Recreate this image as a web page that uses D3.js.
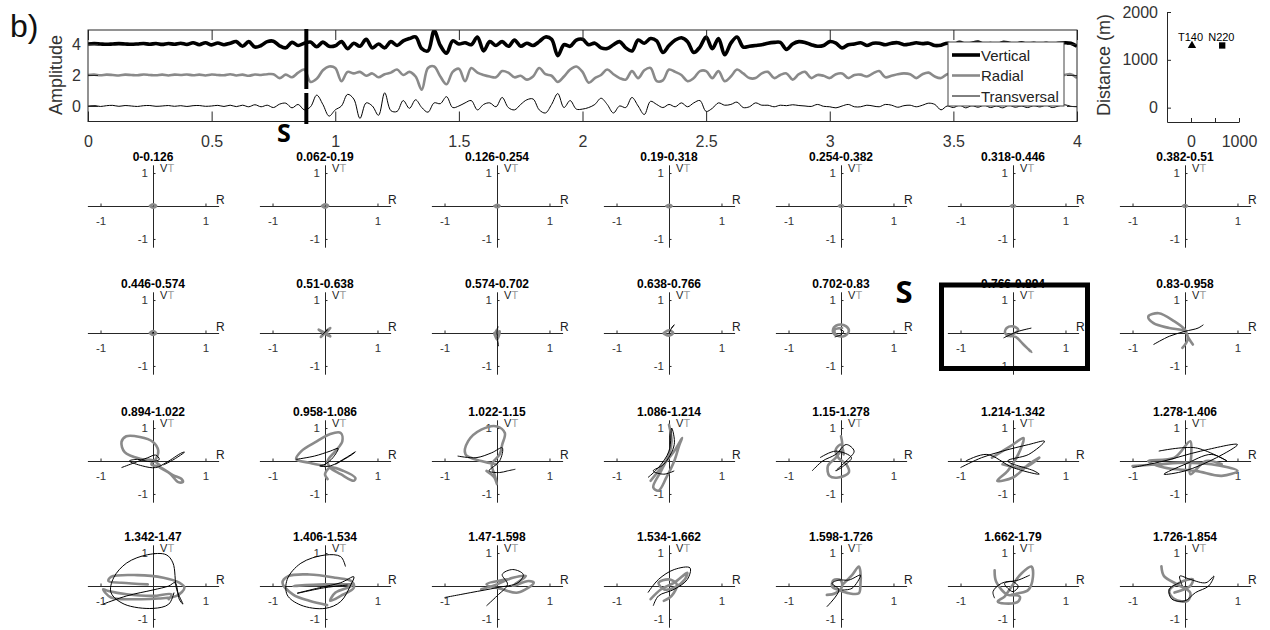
<!DOCTYPE html>
<html>
<head>
<meta charset="utf-8">
<script src="https://cdn.jsdelivr.net/npm/d3@7"></script>
<style>
  body { margin: 0; background: #fff; }
  svg { font-family: "Liberation Sans", Arial, sans-serif; }
</style>
</head>
<body>
<div id="chart"></div>
<script>
// ---- seismogram traces (amplitude around each offset), one sample every dt seconds
const dt = 0.025;
const vertical = [
  0, 0.02, 0, -0.02, 0, 0.02, 0, -0.02, 0, 0.03, -0.02, 0.03, -0.03, 0.03, -0.02, 0.05, -0.03,
  0.08, -0.05, 0.08, -0.06, 0.06, -0.05, 0.05, 0.15, -0.15, 0.15, -0.2, -0.1, 0.15, 0.18, -0.12, -0.25, 0.1, -0.1,
  0.05, 0.12, -0.18, 0.12, -0.15, -0.12, 0.15, -0.3, 0.05, -0.15, 0.3, -0.25, 0.0, -0.25, 0.15, -0.1, 0.2,
  0.35, 0.45, -0.3, -0.45, 0.85, -0.1, -0.6, 0.2, 0.0, 0.08, -0.05, 0.45, -0.45, 0.15, -0.1, 0.15, -0.15, 0.25,
  -0.15, 0.05, -0.1, 0.15, 0.45, 0.3, -0.75, -0.05, -0.15, 0.25,
  0.3, -0.05, 0.05, -0.25, -0.3, -0.05, 0.15, -0.25, -0.45, 0.25, 0.05, 0.35, 0.2, -0.55, -0.1, 0.25, 0.4, 0.15,
  -0.55, -0.2, 0.45, -0.3, 0.35, -0.7, 0.05, 0.45, -0.2, -0.15, -0.1, -0.05, 0.05, 0.1, 0.1, -0.35, 0.0, 0.15,
  0.1, -0.05, -0.15, -0.1,
  0.15, 0.05, -0.25, -0.05, 0.0, 0.08, -0.1, 0.05, 0.05, -0.05, 0.05, 0.08, -0.05, 0.0, 0.08, 0.02, 0.05, -0.1, -0.08,
  0.05, -0.05, 0.1, -0.03, 0.05, 0.12, -0.05, 0.02, -0.08, 0.1, 0.05, -0.05, 0.08, -0.03, 0.05, -0.05,
  0.05, -0.05, 0.05, 0.08, 0.05, -0.15
];
const radial = [
  0, 0.02, -0.02, 0.02, 0, -0.03, 0.02, 0, -0.02, 0.03, 0, -0.02, 0.02, -0.03, 0.02, 0, 0.03, -0.02, 0.02, -0.03,
  0.03, 0, -0.02, 0.05, -0.03, 0.02, -0.05, 0.03, 0, 0.05,
  0.05, -0.2, 0.02, -0.15, 0.15, 0.35, -0.45, -0.25, 0.3, 0.55, 0.45, -0.4, 0.2, 0.1, 0.2, -0.05, 0.1, -0.15, 0.05,
  0.15, 0.35, 0.0, 0.2, -0.1, -0.95, 0.45, 0.55, -0.1, -0.6, 0.2,
  0.4, -0.4, 0.45, 0.15, 0.0, -0.1, -0.15, 0.25, 0.15, -0.15, -0.05, -0.3, -0.1, 0.45, 0.05, -0.05, -0.45, -0.1,
  0.35, 0.55, 0.2, -0.5, -0.2, 0.0, 0.35, 0.05, -0.2, -0.3, 0.25, -0.2, 0.3, 0.45, -0.4, -0.35, 0.35, 0.2, 0.0,
  -0.4, -0.2, 0.25,
  0.25, -0.2, 0.25, -0.4, -0.1, 0.35, 0.1, -0.2, -0.2, 0.1, 0.2, -0.2, 0.0, 0.1, -0.3, 0.05, 0.2, -0.2, 0.0, -0.05,
  -0.2, 0.05, 0.1, -0.2, 0.0, 0.02, -0.1, 0.1, 0.25, -0.15, -0.05, 0.05, 0.1, 0.05, -0.2, 0.05, 0.15, -0.1, -0.2,
  0.05, 0.1, -0.1, 0.05, 0.15, -0.05, 0.1, -0.1, 0.05, 0.1, -0.05, 0.0, 0.1, -0.1, 0.05, 0.08, -0.05, 0.05, -0.05,
  0.0, 0.05, -0.2
];
const transversal = [
  0, 0.03, -0.03, 0.02, 0.04, -0.02, 0.03, 0, -0.03, 0.02, 0.03, -0.02, 0, 0.03, -0.02, 0.02, -0.03, 0.02, 0.03,
  -0.02, 0, 0.04, -0.03, 0.05, -0.04,
  0.05, -0.05, 0.08, -0.05, 0.05, -0.1, 0.12, 0.18, -0.12, 0.1, -0.25, -0.05, 0.7, 0.1, -0.65, -0.25, 0.0, 0.75,
  0.45, -0.8, 0.2, 0.0, -0.6, 0.85, -0.3, -0.35, 0.35, -0.15, 0.4, -0.1, -0.4, 0.2, 0.15, 0.6, -0.1,
  0.0, 0.2, 0.35, -0.25, 0.1, 0.2, -0.05, 0.55, -0.1, -0.25, 0.1, 0.4, 0.45, -0.25, -0.45, 0.1, 0.8, -0.1, 0.35,
  -0.2, -0.2, -0.1, 0.1, 0.5, 0.1, -0.45, 0.0, -0.1, 0.55, 0.0, -0.55, 0.3, 0.1, -0.1, 0.1, -0.05, 0.2, -0.05, 0.2, 0.35,
  -0.35, -0.15, 0.2, 0.05, 0.1, 0.25, -0.1, -0.05, 0.2, 0.05, 0.05, -0.05, 0.05, 0.02, 0.08, 0.03, 0.0, -0.03,
  0.1, -0.02, -0.05, -0.12, 0.0, 0.1, -0.05, -0.05, 0.05, 0.0, -0.05, 0.1, 0.05, -0.08, 0.02, 0.05, -0.05, 0.05,
  0.18, 0.1, -0.25, 0.0,
  -0.1, 0.05, -0.12, 0.02, -0.08, 0.05, -0.1, 0.0, -0.12, 0.05, -0.08, 0.0, -0.1, 0.02, -0.06, 0.05, -0.1, 0.0,
  0.08, -0.02, -0.05
];
const traceNames = ["Vertical", "Radial", "Transversal"];
const traceOffsets = [4, 2, 0];
const timeTicks = [0, 0.5, 1, 1.5, 2, 2.5, 3, 3.5, 4];
const ampTicks = [0, 2, 4];
const sArrival = 0.883;

// ---- station map
const stationNames = ["T140", "N220"];
const stationX = [20, 650];
const stationY = [1300, 1300];
const distTicks = [0, 1000, 2000];
const offsetTicks = [0, 500, 1000];

// ---- particle motion windows (R on x, V / T on y)
const windowLabels = [
  "0-0.126", "0.062-0.19", "0.126-0.254", "0.19-0.318", "0.254-0.382", "0.318-0.446", "0.382-0.51",
  "0.446-0.574", "0.51-0.638", "0.574-0.702", "0.638-0.766", "0.702-0.83", "0.766-0.894", "0.83-0.958",
  "0.894-1.022", "0.958-1.086", "1.022-1.15", "1.086-1.214", "1.15-1.278", "1.214-1.342", "1.278-1.406",
  "1.342-1.47", "1.406-1.534", "1.47-1.598", "1.534-1.662", "1.598-1.726", "1.662-1.79", "1.726-1.854"
];
const sWindow = 12;

const grayPaths = [
  [[-0.06,0],[0,0.05],[0.06,0],[0,-0.05],[-0.06,0]],
  [[-0.06,0],[0,0.05],[0.06,0.01],[0,-0.05],[-0.06,0]],
  [[-0.05,0],[0,0.04],[0.05,0],[0,-0.04],[-0.05,0]],
  [[-0.05,0],[0,0.04],[0.05,0],[0,-0.04],[-0.05,0]],
  [[-0.04,0],[0,0.03],[0.04,0],[0,-0.03],[-0.04,0]],
  [[-0.04,0],[0,0.03],[0.04,0],[0,-0.03],[-0.04,0]],
  [[-0.04,0],[0,0.03],[0.04,0],[0,-0.03],[-0.04,0]],
  [[-0.06,0],[0,0.06],[0.06,0],[0,-0.06],[-0.06,0]],
  [[0,0],[-0.12,0.1],[0,0],[0.1,0.15],[0,0],[0.1,-0.1],[0,0],[-0.08,-0.12],[0,0]],
  [[0,0.1],[-0.05,-0.05],[0.05,0.05],[0,-0.2],[-0.05,0]],
  [[-0.1,0],[0,0.08],[0.08,0],[0,-0.08],[-0.1,-0.02]],
  [[0,-0.1],[-0.12,-0.05],[-0.15,0.12],[-0.05,0.25],[0.1,0.2],[0.15,0.05],[0.05,-0.1],[-0.1,-0.05],[-0.12,0.1],[0.02,0.15]],
  [[-0.05,-0.1],[-0.15,0],[-0.12,0.15],[0,0.2],[0.1,0.1],[0.02,-0.02],[-0.12,-0.08],[0.05,-0.12],[0.2,-0.35],[0.35,-0.58],[0.3,-0.5]],
  [[0.15,-0.35],[0.05,-0.1],[0,0.1],[-0.2,0.35],[-0.5,0.6],[-0.7,0.5],[-0.6,0.3],[-0.3,0.15],[0,0.05],[0.05,-0.2],[-0.05,-0.45]],
  [[0.13,-0.13],[0,0.02],[-0.25,0.07],[-0.54,0.27],[-0.6,0.58],[-0.51,0.75],[-0.25,0.73],[0,0.58],[0.1,0.32],[0.06,0.07],[-0.03,-0.1],[0.13,-0.18],[0.38,-0.43],[0.54,-0.54],[0.57,-0.64],[0.48,-0.64],[0.32,-0.38],[0.13,-0.2]],
  [[0,-0.15],[-0.3,-0.05],[-0.55,0.05],[-0.45,0.3],[-0.15,0.6],[0.1,0.82],[0.3,0.85],[0.33,0.6],[0.2,0.3],[0.05,0],[0.1,-0.2],[0.3,-0.4],[0.55,-0.6],[0.58,-0.52],[0.35,-0.3],[0.1,-0.2],[0,-0.4],[0.05,-0.55]],
  [[0,-0.1],[-0.3,0],[-0.6,0.2],[-0.55,0.6],[-0.3,0.95],[0,1.05],[0.15,0.85],[0.1,0.5],[0.05,0.2],[-0.1,-0.1],[-0.05,-0.4],[0,-0.7],[-0.05,-0.5],[-0.2,-0.3]],
  [[0,1.1],[0.05,0.6],[0,0.2],[-0.15,-0.3],[-0.3,-0.8],[-0.2,-0.9],[-0.05,-0.5],[0.1,0],[0.2,0.5],[0.25,0.7],[0.1,0.3],[-0.25,-0.4],[-0.35,-0.6]],
  [[0,0.75],[0.02,0.4],[-0.1,0.1],[-0.25,-0.15],[-0.22,-0.45],[-0.05,-0.5],[0.15,-0.35],[0.1,-0.1],[-0.05,0.1],[-0.1,0.35],[0,0.5],[0.05,0.2]],
  [[-0.4,0.1],[0,0.5],[0.2,0.7],[0.1,0.2],[-0.1,-0.3],[-0.3,-0.6],[0,-0.5],[0.3,-0.1],[0.5,0.1],[0.2,-0.2],[-0.2,-0.1]],
  [[-1,-0.15],[-0.5,-0.1],[0,-0.05],[0.5,-0.1],[1,-0.3],[0.7,-0.45],[0.2,-0.3],[-0.4,-0.2],[-0.7,0],[-0.2,0.1],[0.1,0.6],[0.12,0.2],[0.1,-0.4],[0.4,0],[0.7,-0.1]],
  [[0.3,-0.4],[0.35,-0.25],[0,-0.3],[-0.5,-0.25],[-0.85,-0.15],[-0.95,-0.1],[-0.8,-0.35],[-0.3,-0.4],[0.1,-0.38],[0.45,-0.3],[0.6,-0.05],[0.5,0.1],[0.2,0.25],[-0.3,0.33],[-0.8,0.28],[-0.85,0.15],[-0.6,0.1],[-0.1,0.05]],
  [[0.04,-0.58],[-0.3,-0.45],[-0.6,-0.27],[-0.81,0.1],[-0.7,0.3],[-0.3,0.35],[0.2,0.25],[0.5,0.15],[0.55,-0.05],[0.3,-0.3],[0.1,-0.45],[0.2,-0.2],[0.5,0],[0,0.05],[-0.6,0],[-0.3,0.03],[0.3,0.05],[0.55,0.05]],
  [[-0.3,-0.1],[0,0.05],[0.3,0.25],[0.55,0.3],[0.3,0],[0.6,0.15],[0.7,0.1],[0.4,-0.2],[0.1,-0.1],[-0.2,0.05],[0.2,0.2]],
  [[-0.35,-0.4],[-0.15,-0.1],[0.1,0.1],[0.35,0.4],[0.3,0.2],[0.1,-0.05],[-0.1,-0.1],[-0.2,0.1],[0,0.2],[0.15,0.05],[0.05,-0.3],[-0.1,-0.45]],
  [[0.02,0.03],[0.21,0.33],[0.34,0.59],[0.37,0.43],[0.37,0.03],[0.34,-0.22],[0.15,-0.22],[-0.04,-0.12],[-0.17,-0.02],[-0.14,0.18],[-0.01,0.18],[0.02,-0.02],[-0.11,-0.22],[-0.27,-0.27]],
  [[-0.35,0.48],[-0.32,0.13],[-0.1,-0.27],[0.1,-0.22],[0.29,-0.12],[0.38,0.28],[0.35,0.59],[0.16,0.38],[-0.03,-0.02],[-0.16,-0.32],[-0.29,-0.47],[-0.16,-0.53],[0.1,-0.47],[0.13,-0.32],[-0.03,-0.27]],
  [[-0.45,0.6],[-0.4,0.3],[-0.15,0.05],[0.1,-0.2],[0.05,-0.45],[-0.2,-0.4],[-0.3,-0.15],[-0.1,0.1],[0.15,0.2],[0.1,0],[-0.2,-0.2]]
];

const blackPaths = [
  [[0,0],[0.01,0]], [[0,0],[0.01,0]], [[0,0],[0.01,0]], [[0,0],[0.01,0]],
  [[0,0],[0.01,0]], [[0,0],[0.01,0]], [[0,0],[0.01,0]],
  [[-0.02,0],[0.02,0.02]],
  [[-0.05,-0.05],[0.05,0.1],[0,0.05]],
  [[0.02,0.2],[0,0],[0.03,-0.4]],
  [[0,0],[0.05,0.15],[0.1,0.25],[0.05,0.15]],
  [[-0.12,-0.12],[0,-0.05],[0.05,0.05],[-0.02,0.1]],
  [[-0.18,-0.15],[-0.05,-0.05],[0.1,0.05],[0.35,0.15]],
  [[-0.6,-0.35],[-0.3,-0.1],[0,0.05],[0.25,0.15],[0.35,0.25]],
  [[-0.6,-0.2],[-0.35,-0.05],[-0.1,0.1],[0.05,0.18],[0.12,0.05],[-0.05,-0.02],[-0.3,0.05],[-0.45,0],[-0.2,-0.15],[0.05,-0.2],[0.25,-0.05],[0.55,0.25],[0.6,0.27],[0.4,0.05],[0.2,-0.12]],
  [[-0.55,0.05],[-0.2,0.15],[0.1,0.3],[0.25,0.38],[0.15,0.1],[0,-0.1],[-0.1,-0.15],[0.1,-0.15],[0.4,0.1],[0.58,0.28],[0.5,0.18],[0.2,-0.1]],
  [[-0.75,0.15],[-0.4,0.1],[-0.1,0.25],[0.1,0.4],[0.05,0],[-0.15,-0.3],[0.05,-0.35],[0.2,-0.3],[0.35,-0.25]],
  [[-0.4,-0.5],[-0.2,-0.2],[0,0.3],[0.05,1],[0.1,0.5],[-0.1,-0.1],[-0.3,-0.3],[-0.1,-0.4],[0.1,-0.3]],
  [[-0.55,-0.3],[-0.35,0],[-0.1,0.2],[0.1,0.5],[0.25,0.3],[0.1,0],[-0.1,-0.3],[0.05,-0.15],[0.2,0.1],[-0.1,0.3],[-0.4,0.1]],
  [[-1,-0.2],[-0.6,0.1],[-0.2,0.3],[0.3,0.5],[0.6,0.6],[0.3,0.2],[-0.1,0],[0.4,-0.3],[0.5,-0.4],[0,-0.2],[-0.5,0.2],[-0.9,0]],
  [[-1,-0.2],[-0.4,0],[0.3,0.3],[1,0.5],[0.6,0.1],[0,-0.3],[-0.4,-0.4],[0,-0.1],[0.5,0.2],[0.8,0],[0.2,0.4],[-0.5,0.3]],
  [[-0.95,-0.55],[-0.5,-0.3],[0,-0.12],[0.3,0],[0.42,0.1],[0.5,-0.4],[0.57,-0.55],[0.45,-0.1],[0.38,0.7],[0.25,0.95],[-0.1,0.95],[-0.5,0.7],[-0.75,0.25],[-0.8,-0.2],[-0.55,-0.55],[0,-0.68],[0.3,-0.55],[0.4,-0.2]],
  [[0.39,0.59],[0.3,0.89],[0,0.94],[-0.46,0.69],[-0.72,0.2],[-0.72,-0.27],[-0.46,-0.58],[0,-0.68],[0.3,-0.47],[0.49,0.03],[0.55,0.28],[0.3,0.1],[-0.1,-0.05],[-0.53,-0.22],[0,-0.05],[0.43,0.03]],
  [[-1,-0.35],[-0.5,-0.2],[0,-0.05],[0.4,0.1],[0.5,0.35],[0.3,0.5],[0.1,0.35],[0.2,0.05],[0,-0.3],[-0.2,-0.6]],
  [[-0.4,-0.2],[-0.2,0.2],[0.1,0.5],[0.4,0.55],[0.35,0.2],[0.1,-0.1],[-0.2,-0.3],[-0.3,-0.6]],
  [[-0.27,-0.63],[-0.04,-0.12],[-0.17,0.08],[-0.04,0.18],[0.15,0.18],[0.37,0.33],[0.21,-0.07],[0.02,-0.12]],
  [[-0.35,-0.37],[-0.38,-0.17],[-0.22,0.08],[0,0.13],[0.1,-0.02],[0,-0.17],[-0.1,-0.07],[-0.16,0.08],[0.1,0.18],[0.32,0.33]],
  [[-0.1,0.1],[-0.3,-0.1],[-0.25,-0.4],[0,-0.45],[0.2,-0.2],[0.45,0],[0.55,0.3],[0.4,0.1],[0.1,0.2],[-0.1,0.3],[-0.05,0]]
];

// ================= drawing =================
const svg = d3.select("#chart").append("svg")
  .attr("width", 1270).attr("height", 630)
  .style("background", "#fff");

const axisColor = "#262626";
const grayColor = "#8a8a8a";
const fontFam = "Liberation Sans, Arial, sans-serif";
const plain = d => String(d); // MATLAB-like tick labels: 4, 0.5, 1000

// ---------- top: seismograms ----------
const x = d3.scaleLinear().domain([0, 4]).range([88, 1077]);
const y = d3.scaleLinear().domain([-1, 4.9]).range([121.5, 30]);

svg.append("clipPath").attr("id", "topclip")
  .append("rect").attr("x", 88).attr("y", 30).attr("width", 989).attr("height", 91.5);

const traces = [vertical, radial, transversal];
const traceStyle = [
  { color: "#000", width: 3.6 },
  { color: grayColor, width: 2.6 },
  { color: "#000", width: 1 }
];

const traceLine = d3.line()
  .x((d, i) => x(i * dt))
  .y(d => y(d))
  .curve(d3.curveCatmullRom.alpha(0.5));

const traceG = svg.append("g").attr("clip-path", "url(#topclip)");
[2, 1, 0].forEach(k => {
  traceG.append("path")
    .datum(traces[k].map(v => v + traceOffsets[k]))
    .attr("d", traceLine)
    .attr("fill", "none")
    .attr("stroke", traceStyle[k].color)
    .attr("stroke-width", traceStyle[k].width)
    .attr("stroke-linejoin", "round");
});

// axes of the top panel (ticks inside, MATLAB style)
const gxb = svg.append("g").attr("transform", "translate(0,121.5)")
  .call(d3.axisBottom(x).tickValues(timeTicks).tickFormat(plain).tickSizeInner(-10).tickSizeOuter(0).tickPadding(14));
const gxt = svg.append("g").attr("transform", "translate(0,30)")
  .call(d3.axisTop(x).tickValues(timeTicks).tickFormat("").tickSizeInner(-10).tickSizeOuter(0));
const gyl = svg.append("g").attr("transform", "translate(88,0)")
  .call(d3.axisLeft(y).tickValues(ampTicks).tickFormat(plain).tickSizeInner(-10).tickSizeOuter(0).tickPadding(7));
const gyr = svg.append("g").attr("transform", "translate(1077,0)")
  .call(d3.axisRight(y).tickValues(ampTicks).tickFormat("").tickSizeInner(-10).tickSizeOuter(0));
[gxb, gxt, gyl, gyr].forEach(g => {
  g.attr("font-family", fontFam);
  g.select(".domain").remove();
  g.selectAll(".tick line").attr("stroke", axisColor);
  g.selectAll("text").attr("font-size", 16).attr("fill", "#333");
});
svg.append("rect").attr("x", 88).attr("y", 30).attr("width", 989).attr("height", 91.5)
  .attr("fill", "none").attr("stroke", axisColor).attr("stroke-width", 1);

svg.append("text").attr("transform", "translate(62,75) rotate(-90)")
  .attr("text-anchor", "middle").attr("font-size", 18).attr("fill", "#333").text("Amplitude");

svg.append("text").attr("x", 10).attr("y", 37)
  .attr("font-size", 32).attr("fill", "#111").text("b)");

// legend
const lg = svg.append("g");
lg.append("rect").attr("x", 948).attr("y", 42).attr("width", 116).attr("height", 64)
  .attr("fill", "#fff").attr("stroke", "#444").attr("stroke-width", 1);
traceNames.forEach((name, k) => {
  const ly = 55 + k * 20.5;
  lg.append("line").attr("x1", 952).attr("x2", 980).attr("y1", ly).attr("y2", ly)
    .attr("stroke", traceStyle[k].color).attr("stroke-width", traceStyle[k].width);
  lg.append("text").attr("x", 981).attr("y", ly + 5.5).attr("font-size", 15).attr("fill", "#222").text(name);
});

// S arrival marker
const sx = x(sArrival);
svg.append("line").attr("x1", sx).attr("x2", sx).attr("y1", 29).attr("y2", 89)
  .attr("stroke", "#000").attr("stroke-width", 4);
svg.append("line").attr("x1", sx).attr("x2", sx).attr("y1", 93).attr("y2", 124)
  .attr("stroke", "#000").attr("stroke-width", 4);

// ---------- top right: station distances ----------
const dx = d3.scaleLinear().domain([-500, 1000]).range([1167, 1239]);
const dy = d3.scaleLinear().domain([-300, 2000]).range([122, 12]);
const gdl = svg.append("g").attr("transform", "translate(1167,0)")
  .call(d3.axisLeft(dy).tickValues(distTicks).tickFormat(plain).tickSizeInner(-4).tickSizeOuter(0).tickPadding(9));
const gdb = svg.append("g").attr("transform", "translate(0,122)")
  .call(d3.axisBottom(dx).tickValues(offsetTicks).tickFormat(d => d === 500 ? "" : String(d))
    .tickSizeInner(-4).tickSizeOuter(0).tickPadding(14));
[gdl, gdb].forEach(g => {
  g.attr("font-family", fontFam);
  g.select(".domain").attr("stroke", axisColor);
  g.selectAll(".tick line").attr("stroke", axisColor);
  g.selectAll("text").attr("font-size", 16).attr("fill", "#333");
});
svg.append("text").attr("transform", "translate(1110,65) rotate(-90)")
  .attr("text-anchor", "middle").attr("font-size", 18).attr("fill", "#333").text("Distance (m)");

const stations = stationNames.map((n, i) => ({ name: n, x: stationX[i], y: stationY[i] }));
svg.selectAll(".stn").data(stations).join("path")
  .attr("class", "stn")
  .attr("transform", d => `translate(${dx(d.x)},${dy(d.y)})`)
  .attr("d", (d, i) => d3.symbol(i === 0 ? d3.symbolTriangle : d3.symbolSquare, i === 0 ? 30 : 40)())
  .attr("fill", "#000");
svg.selectAll(".stnlab").data(stations).join("text")
  .attr("class", "stnlab")
  .attr("x", d => dx(d.x) - 14).attr("y", d => dy(d.y) - 4)
  .attr("font-size", 11).attr("fill", "#000").text(d => d.name);

// ---------- particle motion grid ----------
const rowCenters = [206, 333, 461, 586];
const hodoLine = d3.line().curve(d3.curveCatmullRom.alpha(0.5));

windowLabels.forEach((label, i) => {
  const r = Math.floor(i / 7), c = i % 7;
  const cx = 153 + 172 * c, cy = rowCenters[r];
  const hx = d3.scaleLinear().domain([-1.25, 1.25]).range([cx - 65.6, cx + 65.6]);
  const hy = d3.scaleLinear().domain([-1.25, 1.25]).range([cy + 41.2, cy - 41.2]);
  const g = svg.append("g");

  const ax = g.append("g").attr("transform", `translate(0,${hy(0)})`)
    .call(d3.axisBottom(hx).tickValues([-1, 1]).tickFormat(plain).tickSizeInner(-2.5).tickSizeOuter(0).tickPadding(11));
  const ay = g.append("g").attr("transform", `translate(${hx(0)},0)`)
    .call(d3.axisLeft(hy).tickValues([-1, 1]).tickFormat(plain).tickSizeInner(-2.5).tickSizeOuter(0).tickPadding(5));
  [ax, ay].forEach(a => {
    a.attr("font-family", fontFam);
    a.select(".domain").attr("stroke", axisColor);
    a.selectAll(".tick line").attr("stroke", axisColor);
    a.selectAll("text").attr("font-size", 11.5).attr("fill", "#333");
  });

  g.append("path")
    .attr("d", hodoLine(grayPaths[i].map(p => [hx(p[0]), hy(p[1])])))
    .attr("fill", "none").attr("stroke", grayColor).attr("stroke-width", 2.6)
    .attr("stroke-linejoin", "round").attr("stroke-linecap", "round");
  g.append("path")
    .attr("d", hodoLine(blackPaths[i].map(p => [hx(p[0]), hy(p[1])])))
    .attr("fill", "none").attr("stroke", "#000").attr("stroke-width", 1);

  g.append("text").attr("x", cx).attr("y", cy - 45).attr("text-anchor", "middle")
    .attr("font-size", 12).attr("font-weight", "bold").attr("fill", "#000").text(label);
  g.append("text").attr("x", cx + 63).attr("y", cy - 2).attr("font-size", 12).attr("fill", "#222").text("R");
  g.append("text").attr("x", cx + 7).attr("y", cy - 34).attr("font-size", 11).attr("fill", "#222").text("V");
  g.append("text").attr("x", cx + 14.5).attr("y", cy - 34).attr("font-size", 11).attr("fill", "#999").text("T");

  if (i === sWindow) {
    g.append("rect").attr("x", cx - 71.5).attr("y", cy - 48).attr("width", 146).attr("height", 83.5)
      .attr("fill", "none").attr("stroke", "#000").attr("stroke-width", 5);
  }
});

// big "S" labels
svg.append("text").attr("x", 284).attr("y", 142).attr("text-anchor", "middle")
  .attr("font-family", "Open Sans, sans-serif").attr("font-weight", "bold").attr("font-size", 25)
  .attr("stroke", "#fff").attr("stroke-width", 4).attr("paint-order", "stroke").attr("fill", "#000").text("S");
svg.append("text").attr("x", 904).attr("y", 303).attr("text-anchor", "middle")
  .attr("font-family", "Open Sans, sans-serif").attr("font-weight", "bold").attr("font-size", 31)
  .attr("fill", "#000").text("S");
</script>
</body>
</html>
